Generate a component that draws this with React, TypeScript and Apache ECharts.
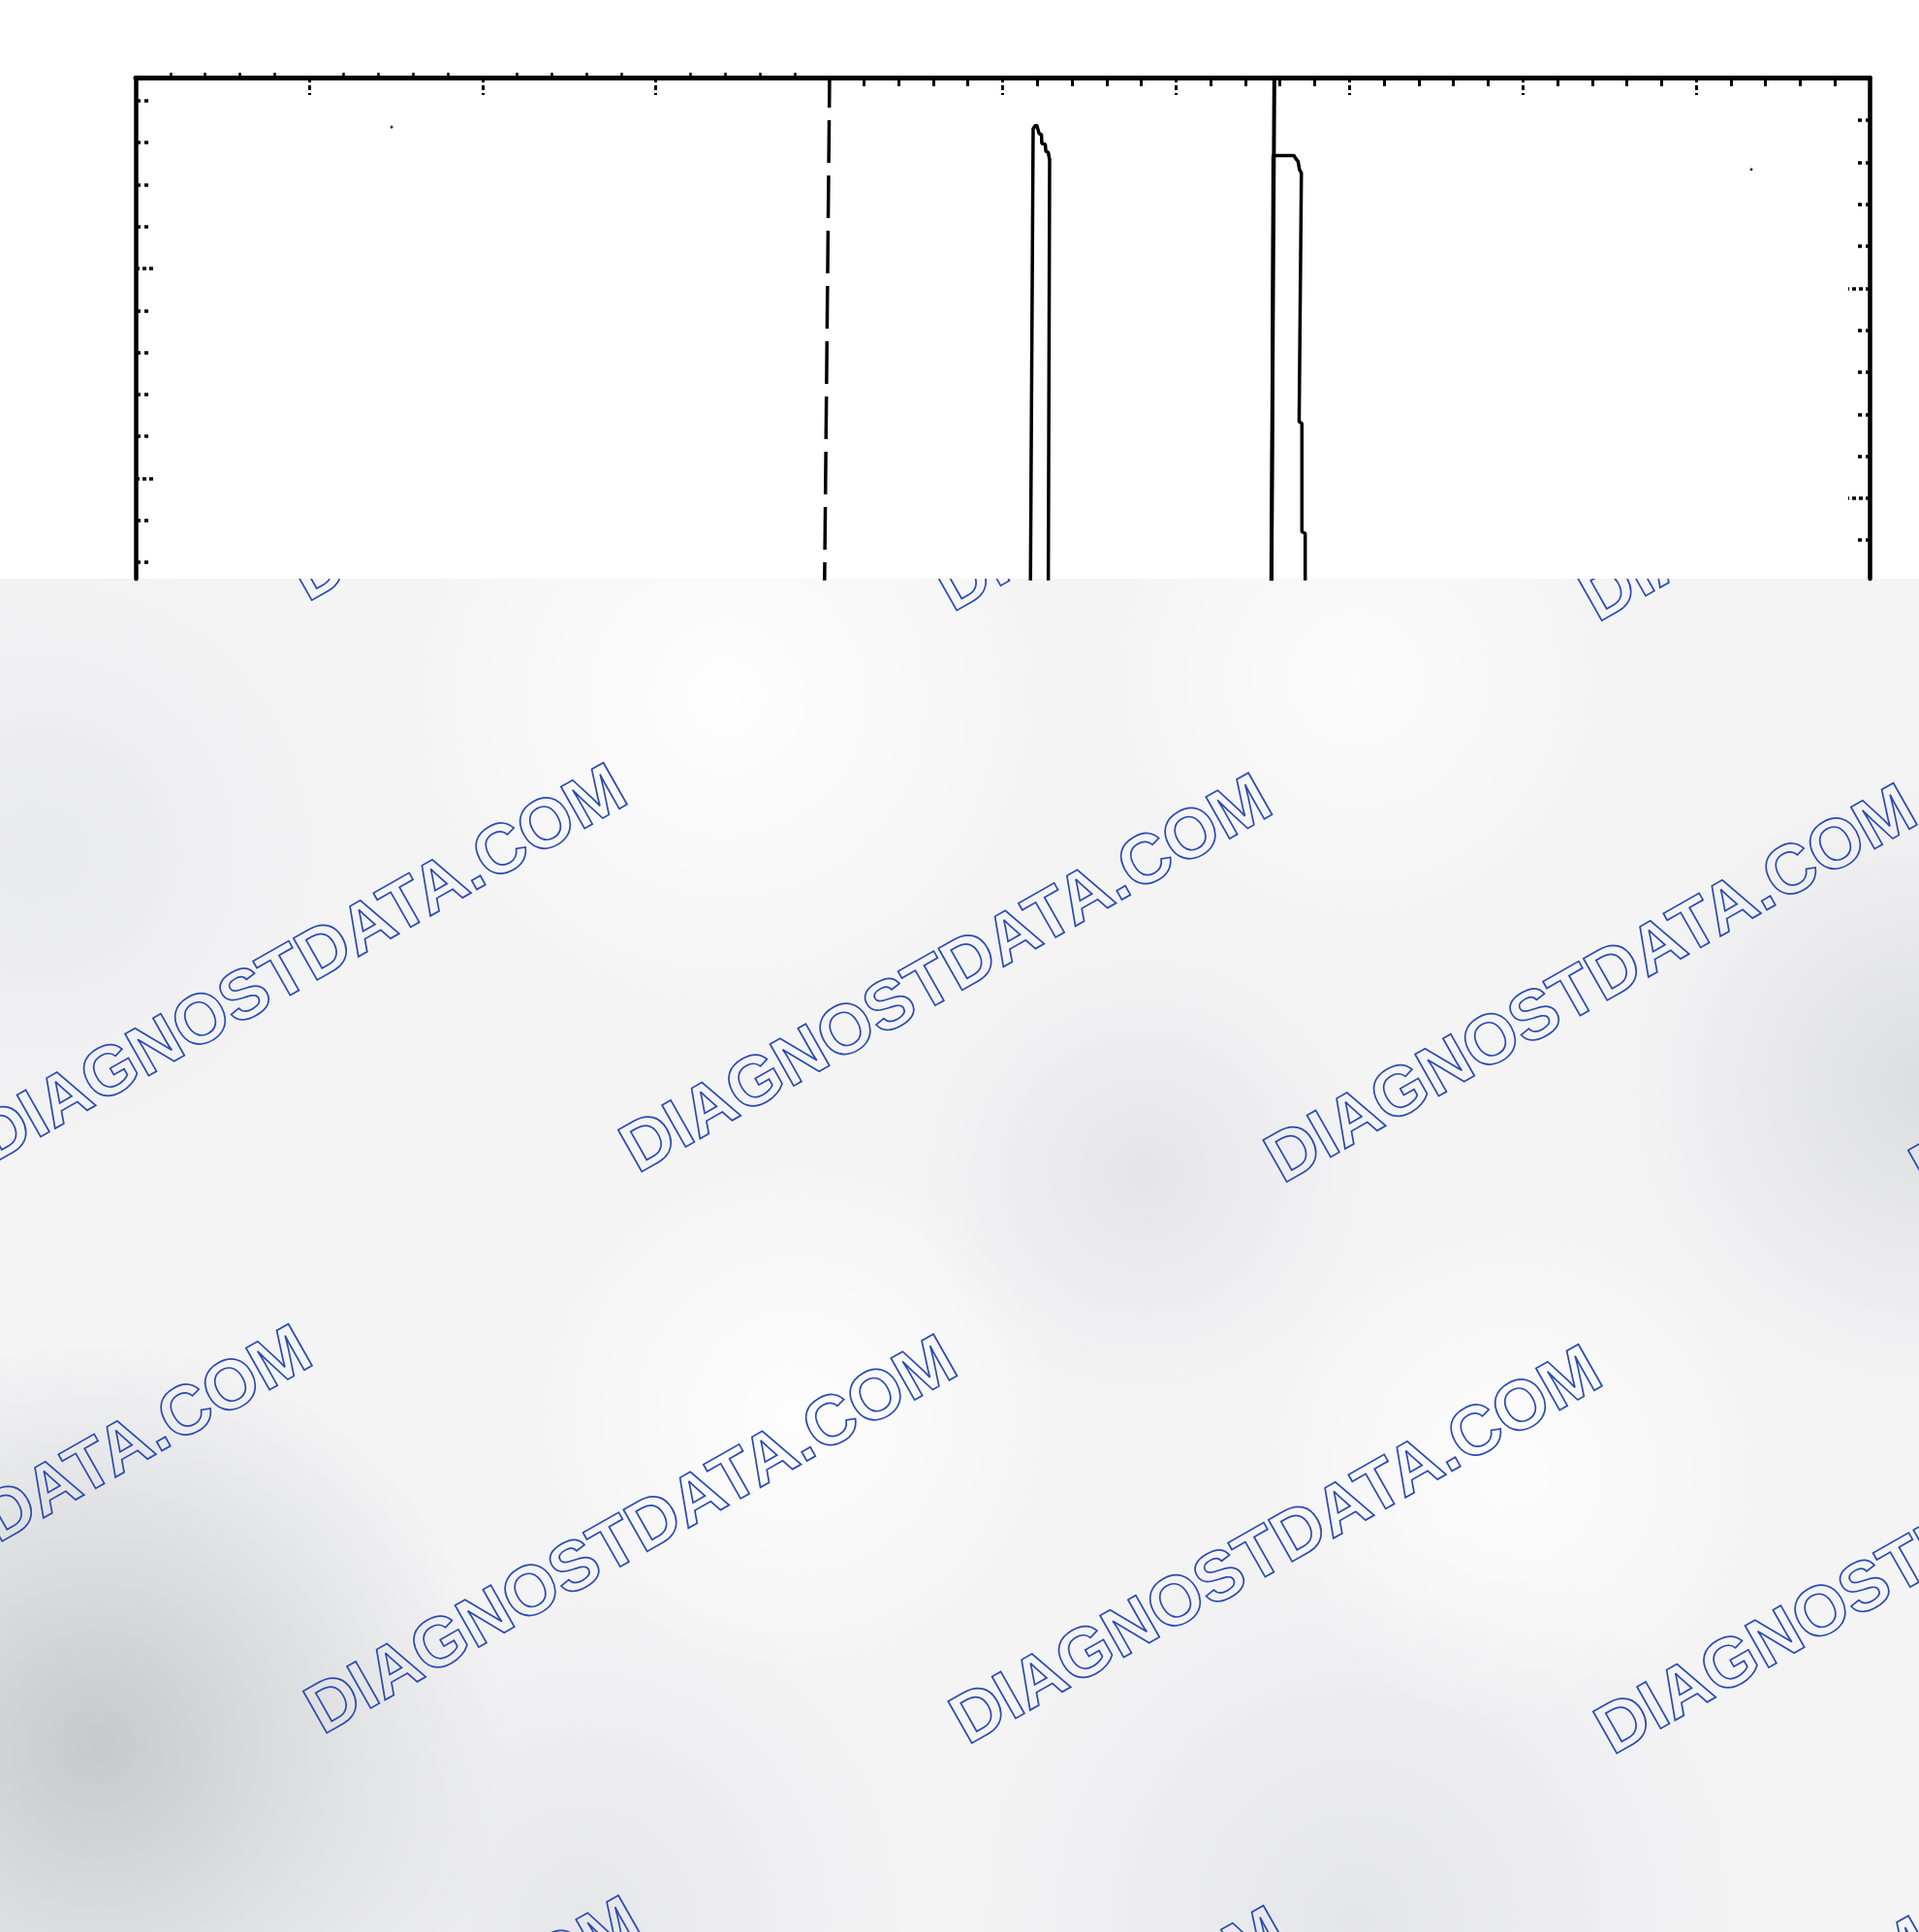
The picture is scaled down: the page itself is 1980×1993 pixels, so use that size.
import React, { useEffect, useRef } from "react";
import * as echarts from "echarts";

const W = 1980;
const H = 1993;
const PLOT_BOTTOM = 597; // scan ends here, the watermark sheet starts

// ---- axis ranges & tick values ----
const X_MIN = 0;
const X_MAX = 10;
const Y_MIN = 0;
const Y_MAX = 11.94;

const xMajorTicks = [1, 2, 3, 4, 5, 6, 7, 8, 9];
const xMinorTicksLeft = [0.2, 0.4, 0.6, 0.8, 1.2, 1.4, 1.6, 1.8, 2.2, 2.4, 2.6, 2.8, 3.2, 3.4, 3.6, 3.8];
const xMinorTicksRight = [4.2, 4.4, 4.6, 4.8, 5.2, 5.4, 5.6, 5.8, 6.2, 6.4, 6.6, 6.8, 7.2, 7.4, 7.6, 7.8, 8.2, 8.4, 8.6, 8.8, 9.2, 9.4, 9.6, 9.8];

const yLeftMinorTicks = [0.39, 1.39, 3.39, 4.39, 5.39, 6.39, 8.39, 9.39, 10.39, 11.39];
const yLeftMajorTicks = [2.39, 7.39];
const yRightMinorTicks = [0.92, 2.92, 3.92, 4.92, 5.92, 7.92, 8.92, 9.92, 10.92];
const yRightMajorTicks = [1.92, 6.92];

// ---- traces ----
const dashedMarker = [
  [4.002, 11.94],
  [3.972, -0.5],
];
const solidMarker = [
  [6.567, 11.94],
  [6.549, -0.5],
];
const peakTrace = [
  [5.16, -0.5],
  [5.176, 10.72],
  [5.19, 10.8],
  [5.198, 10.79],
  [5.21, 10.61],
  [5.224, 10.58],
  [5.226, 10.37],
  [5.246, 10.35],
  [5.249, 10.18],
  [5.263, 10.16],
  [5.271, 9.98],
  [5.263, -0.5],
];
const stepTrace = [
  [6.552, -0.5],
  [6.56, 10.08],
  [6.68, 10.08],
  [6.689, 10.02],
  [6.704, 9.94],
  [6.712, 9.75],
  [6.723, 9.67],
  [6.71, 3.74],
  [6.726, 3.7],
  [6.726, 1.12],
  [6.745, 1.08],
  [6.745, -0.5],
];
const specks = [
  [1.476, 10.76],
  [9.318, 9.75],
];

// ---- watermark ----
const WM_TEXT = "DIAGNOSTDATA.COM";

function buildBackground(): any[] {
  const els: any[] = [];
  els.push({
    type: "rect",
    z: 1,
    shape: { x: 0, y: PLOT_BOTTOM, width: W, height: H - PLOT_BOTTOM },
    style: { fill: "#f4f4f5" },
  });
  const blobs = [
    [100, 1800, 420, "rgba(188,190,194,0.8)"],
    [1180, 1210, 240, "rgba(214,214,218,0.5)"],
    [1990, 1120, 320, "rgba(205,206,210,0.6)"],
    [1400, 1980, 420, "rgba(214,215,219,0.5)"],
    [600, 1980, 360, "rgba(214,215,219,0.45)"],
    [40, 880, 320, "rgba(222,223,226,0.5)"],
    [750, 720, 330, "rgba(255,255,255,0.9)"],
    [820, 1460, 270, "rgba(255,255,255,0.85)"],
    [1560, 1520, 260, "rgba(255,255,255,0.8)"],
    [1400, 700, 260, "rgba(255,255,255,0.7)"],
  ];
  blobs.forEach((b) => {
    const col = b[3] as string;
    const transparent = col.replace(/[\d.]+\)$/, "0)");
    els.push({
      type: "circle",
      z: 2,
      shape: { cx: b[0], cy: b[1], r: b[2] },
      style: {
        fill: new echarts.graphic.RadialGradient(0.5, 0.5, 0.5, [
          { offset: 0, color: col },
          { offset: 1, color: transparent },
        ]),
      },
    });
  });

  const theta = Math.atan2(374, 660);
  const fs = 72;
  const up = [-Math.sin(theta), -Math.cos(theta)];
  const along = [Math.cos(theta), -Math.sin(theta)];
  const base = [647, 830];
  const colStep = [665.5, 10.5];
  const rowStep = [-325, 579];
  for (let r = -1; r <= 2; r++) {
    for (let c = -1; c <= 4; c++) {
      const mx = base[0] + c * colStep[0] + r * rowStep[0];
      const my = base[1] + c * colStep[1] + r * rowStep[1];
      const ax = mx + 0.35 * fs * up[0] + 0.07 * fs * along[0];
      const ay = my + 0.35 * fs * up[1] + 0.07 * fs * along[1];
      els.push({
        type: "text",
        z: 3,
        x: ax,
        y: ay,
        rotation: theta,
        style: {
          text: WM_TEXT,
          font: `bold ${fs}px "Liberation Sans", Arial, sans-serif`,
          fill: "rgba(255,255,255,0)",
          stroke: "#2b4bb0",
          lineWidth: 1.7,
          align: "right",
          verticalAlign: "middle",
        },
      });
    }
  }
  els.push({
    type: "rect",
    z: 4,
    shape: { x: 0, y: 0, width: W, height: PLOT_BOTTOM },
    style: { fill: "#ffffff" },
  });
  return els;
}

export default function App() {
  const ref = useRef<HTMLDivElement>(null);
  useEffect(() => {
    if (!ref.current) return;
    const chart = echarts.init(ref.current, undefined, { renderer: "svg" });
    const black = "#000000";
    const hiddenAxisBits = { axisLabel: { show: false }, splitLine: { show: false } };
    chart.setOption({
      animation: false,
      backgroundColor: "transparent",
      grid: { left: 140, right: W - 1929, top: 80, bottom: H - PLOT_BOTTOM, containLabel: false },
      graphic: { elements: buildBackground() },
      xAxis: [
        {
          type: "value", position: "top", min: X_MIN, max: X_MAX, z: 10,
          axisLine: { show: true, onZero: false, lineStyle: { color: black, width: 5 } },
          axisTick: { show: true, inside: true, length: 18, customValues: xMajorTicks, lineStyle: { color: black, width: 3, type: [5, 3] } },
          ...hiddenAxisBits,
        },
        {
          type: "value", position: "top", min: X_MIN, max: X_MAX, z: 10,
          axisLine: { show: false, onZero: false },
          axisTick: { show: true, inside: false, length: 5, customValues: xMinorTicksLeft, lineStyle: { color: black, width: 2.5 } },
          ...hiddenAxisBits,
        },
        {
          type: "value", position: "top", min: X_MIN, max: X_MAX, z: 10,
          axisLine: { show: false, onZero: false },
          axisTick: { show: true, inside: true, length: 9, customValues: xMinorTicksRight, lineStyle: { color: black, width: 3 } },
          ...hiddenAxisBits,
        },
      ],
      yAxis: [
        {
          type: "value", position: "left", min: Y_MIN, max: Y_MAX, z: 10,
          axisLine: { show: true, onZero: false, lineStyle: { color: black, width: 4.5 } },
          axisTick: { show: true, inside: true, length: 13, customValues: yLeftMinorTicks, lineStyle: { color: black, width: 3.5, type: [5, 4] } },
          ...hiddenAxisBits,
        },
        {
          type: "value", position: "left", min: Y_MIN, max: Y_MAX, z: 10,
          axisLine: { show: false, onZero: false },
          axisTick: { show: true, inside: true, length: 20, customValues: yLeftMajorTicks, lineStyle: { color: black, width: 3.5, type: [4, 3] } },
          ...hiddenAxisBits,
        },
        {
          type: "value", position: "right", min: Y_MIN, max: Y_MAX, z: 10,
          axisLine: { show: true, onZero: false, lineStyle: { color: black, width: 4.5 } },
          axisTick: { show: true, inside: true, length: 12, customValues: yRightMinorTicks, lineStyle: { color: black, width: 3.5, type: [4, 4] } },
          ...hiddenAxisBits,
        },
        {
          type: "value", position: "right", min: Y_MIN, max: Y_MAX, z: 10,
          axisLine: { show: false, onZero: false },
          axisTick: { show: true, inside: true, length: 22, customValues: yRightMajorTicks, lineStyle: { color: black, width: 3.5, type: [4, 3] } },
          ...hiddenAxisBits,
        },
      ],
      series: [
        {
          type: "line", name: "dashed marker", data: dashedMarker, z: 12,
          showSymbol: false, symbol: "none",
          lineStyle: { color: black, width: 3.5, type: [44, 13], dashOffset: 13 },
        },
        {
          type: "line", name: "solid marker", data: solidMarker, z: 12,
          showSymbol: false, symbol: "none",
          lineStyle: { color: black, width: 4 },
        },
        {
          type: "line", name: "peak", data: peakTrace, z: 12,
          showSymbol: false, symbol: "none",
          lineStyle: { color: black, width: 3.5 },
        },
        {
          type: "line", name: "step", data: stepTrace, z: 12,
          showSymbol: false, symbol: "none",
          lineStyle: { color: black, width: 3.5 },
        },
        {
          type: "scatter", name: "specks", data: specks, z: 12,
          symbolSize: 3, itemStyle: { color: black },
        },
      ],
    });
    return () => chart.dispose();
  }, []);
  return <div ref={ref} style={{ position: "absolute", left: 0, top: 0, width: W, height: H }} />;
}
